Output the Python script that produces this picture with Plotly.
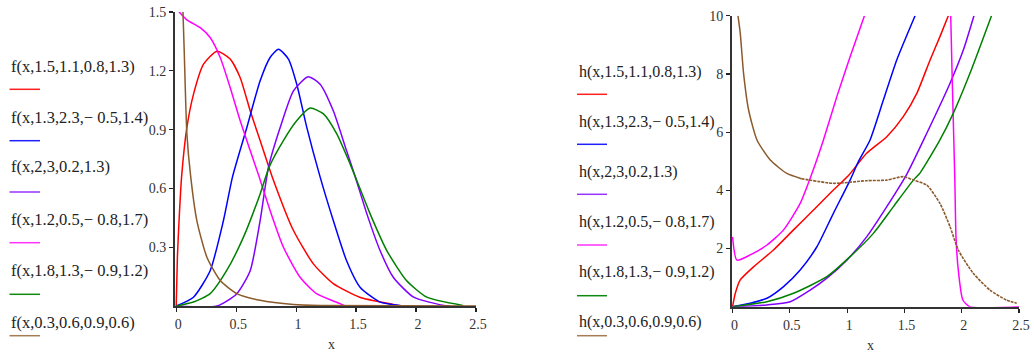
import plotly.graph_objects as go

# ---------------- data ----------------
# Left panel: densities f(x, ...)
f_red_x = [0.0, 0.01, 0.025, 0.045, 0.089, 0.144, 0.228, 0.34, 0.45, 0.533, 0.617, 0.70, 0.80, 0.978, 1.144, 1.31, 1.53, 1.81, 1.87]
f_red_y = [0.0, 0.25, 0.45, 0.66, 0.91, 1.08, 1.234, 1.30, 1.26, 1.166, 0.996, 0.844, 0.66, 0.385, 0.215, 0.114, 0.045, 0.008, 0.0]

f_blue_x = [0.0, 0.144, 0.283, 0.394, 0.47, 0.589, 0.70, 0.783, 0.853, 0.936, 1.006, 1.089, 1.197, 1.31, 1.42, 1.533, 1.70, 1.87]
f_blue_y = [0.0, 0.045, 0.18, 0.436, 0.66, 0.911, 1.149, 1.268, 1.31, 1.26, 1.13, 0.911, 0.665, 0.436, 0.232, 0.096, 0.02, 0.003]

f_purple_x = [0.0, 0.34, 0.506, 0.617, 0.70, 0.77, 0.867, 0.978, 1.10, 1.20, 1.31, 1.42, 1.49, 1.59, 1.70, 1.81, 1.98, 2.23, 2.28]
f_purple_y = [0.0, 0.0, 0.063, 0.18, 0.436, 0.71, 0.911, 1.098, 1.17, 1.132, 0.996, 0.793, 0.665, 0.47, 0.283, 0.147, 0.045, 0.003, 0.0]

f_magenta_x = [0.01, 0.089, 0.2, 0.283, 0.367, 0.45, 0.533, 0.617, 0.686, 0.783, 0.894, 1.033, 1.17, 1.367, 1.41]
f_magenta_y = [1.51, 1.46, 1.42, 1.37, 1.268, 1.115, 0.946, 0.793, 0.67, 0.487, 0.30, 0.147, 0.063, 0.012, 0.0]

f_green_x = [0.0, 0.144, 0.283, 0.42, 0.56, 0.70, 0.776, 0.894, 1.006, 1.117, 1.228, 1.339, 1.45, 1.506, 1.617, 1.756, 1.92, 2.09, 2.39]
f_green_y = [0.0, 0.02, 0.063, 0.18, 0.35, 0.572, 0.71, 0.844, 0.946, 1.01, 0.98, 0.878, 0.725, 0.64, 0.47, 0.283, 0.13, 0.045, 0.003]

f_brown_x = [0.056, 0.067, 0.089, 0.12, 0.172, 0.256, 0.367, 0.506, 0.70, 0.978, 1.2, 2.5]
f_brown_y = [1.51, 1.30, 0.88, 0.665, 0.436, 0.249, 0.13, 0.063, 0.029, 0.008, 0.003, 0.0]

# Right panel: hazard functions h(x, ...)
h_red_x = [0.0, 0.024, 0.067, 0.183, 0.357, 0.532, 0.706, 0.88, 1.01, 1.17, 1.346, 1.49, 1.608, 1.724, 1.81, 1.883]
h_red_y = [0.0, 0.46, 0.92, 1.37, 1.95, 2.64, 3.32, 4.01, 4.5, 5.27, 5.84, 6.53, 7.33, 8.48, 9.28, 10.0]

h_blue_x = [0.0, 0.154, 0.30, 0.445, 0.59, 0.736, 0.88, 1.026, 1.10, 1.20, 1.316, 1.433, 1.593]
h_blue_y = [0.0, 0.12, 0.29, 0.69, 1.26, 2.06, 3.21, 4.35, 5.0, 5.73, 7.10, 8.48, 10.0]

h_purple_x = [0.0, 0.30, 0.503, 0.677, 0.823, 0.997, 1.17, 1.346, 1.52, 1.695, 1.898, 2.014, 2.107]
h_purple_y = [0.0, 0.06, 0.17, 0.57, 0.98, 1.60, 2.40, 3.44, 4.55, 5.96, 7.68, 8.82, 10.0]

h_magenta_x = [0.0, 0.038, 0.154, 0.30, 0.445, 0.59, 0.69, 0.793, 0.91, 1.026, 1.151, None, 1.904, 1.918, 1.94, 1.95, 1.97, 2.01, 2.07, 2.5]
h_magenta_y = [2.4, 1.6, 1.78, 2.12, 2.64, 3.55, 4.55, 5.73, 7.22, 8.59, 10.0, None, 10.0, 7.68, 4.35, 2.4, 1.26, 0.23, 0.0, 0.0]

h_green_x = [0.0, 0.30, 0.532, 0.823, 1.026, 1.229, 1.404, 1.578, 1.637, 1.81, 1.927, 2.072, 2.26]
h_green_y = [0.0, 0.17, 0.46, 1.03, 1.72, 2.52, 3.44, 4.35, 4.6, 5.73, 6.65, 8.02, 10.0]

# brown hazard: smooth solid part, then the noisy (dotted-looking) part
h_brown_x = [0.047, 0.067, 0.096, 0.14, 0.213, 0.329, 0.474, 0.60]
h_brown_y = [10.0, 9.4, 8.02, 6.76, 5.73, 5.04, 4.58, 4.40]
h_brown_tail_x = [0.60, 0.88, 1.17, 1.346, 1.49, 1.578, 1.695, 1.81, 1.898, 1.97, 2.10, 2.247, 2.39, 2.48]
h_brown_tail_y = [4.40, 4.24, 4.33, 4.35, 4.47, 4.35, 4.18, 3.55, 2.75, 1.95, 1.15, 0.57, 0.23, 0.12]

f_labels = ["f(x,1.5,1.1,0.8,1.3)", "f(x,1.3,2.3,\u2212 0.5,1.4)", "f(x,2,3,0.2,1.3)",
            "f(x,1.2,0.5,\u2212 0.8,1.7)", "f(x,1.8,1.3,\u2212 0.9,1.2)", "f(x,0.3,0.6,0.9,0.6)"]
h_labels = ["h(x,1.5,1.1,0.8,1.3)", "h(x,1.3,2.3,\u2212 0.5,1.4)", "h(x,2,3,0.2,1.3)",
            "h(x,1.2,0.5,\u2212 0.8,1.7)", "h(x,1.8,1.3,\u2212 0.9,1.2)", "h(x,0.3,0.6,0.9,0.6)"]

left_ticks_x = [0, 0.5, 1, 1.5, 2, 2.5]
left_ticks_y = [0.3, 0.6, 0.9, 1.2, 1.5]
right_ticks_x = [0, 0.5, 1, 1.5, 2, 2.5]
right_ticks_y = [2, 4, 6, 8, 10]

# ---------------- styling ----------------
colors = ["#ff0000", "#0000ff", "#8000ff", "#ff00ff", "#008000", "#8b5a2b"]
legend_line_colors = ["#ff2020", "#2020ff", "#9933ff", "#ff33ff", "#118811", "#a67c52"]
W, H = 1034, 354
SERIF = "Liberation Serif, Times New Roman, serif"

f_series = [(f_red_x, f_red_y), (f_blue_x, f_blue_y), (f_purple_x, f_purple_y),
            (f_magenta_x, f_magenta_y), (f_green_x, f_green_y), (f_brown_x, f_brown_y)]
h_series = [(h_red_x, h_red_y), (h_blue_x, h_blue_y), (h_purple_x, h_purple_y),
            (h_magenta_x, h_magenta_y), (h_green_x, h_green_y), (h_brown_x, h_brown_y)]

fig = go.Figure()
for (xs, ys), c, name in zip(f_series, colors, f_labels):
    fig.add_trace(go.Scatter(x=xs, y=ys, mode="lines", name=name, xaxis="x", yaxis="y",
                             line=dict(color=c, width=1.5, shape="spline", smoothing=0.6),
                             showlegend=False, hoverinfo="skip"))
for (xs, ys), c, name in zip(h_series, colors, h_labels):
    fig.add_trace(go.Scatter(x=xs, y=ys, mode="lines", name=name, xaxis="x2", yaxis="y2",
                             line=dict(color=c, width=1.5, shape="spline", smoothing=0.6),
                             connectgaps=False, showlegend=False, hoverinfo="skip"))
fig.add_trace(go.Scatter(x=h_brown_tail_x, y=h_brown_tail_y, mode="lines", name=h_labels[5],
                         xaxis="x2", yaxis="y2",
                         line=dict(color=colors[5], width=1.6, shape="spline", smoothing=0.6,
                                   dash="3px,1px"),
                         showlegend=False, hoverinfo="skip"))


def px(x):
    return x / W


def py(y):
    return 1 - y / H


axis_common = dict(showgrid=False, zeroline=False, showline=True, linecolor="#333333",
                   linewidth=2, mirror=False, ticks="outside", ticklen=4, tickcolor="#222222",
                   tickwidth=1.2, ticklabelstandoff=0,
                   tickfont=dict(family=SERIF, size=14, color="#333333"))

fig.update_layout(
    width=W, height=H,
    margin=dict(l=0, r=0, t=0, b=0, autoexpand=False),
    paper_bgcolor="white", plot_bgcolor="white",
    xaxis=dict(domain=[px(175), px(476)], range=[-0.01, 2.5], anchor="y",
               tickvals=left_ticks_x, ticktext=[str(t) for t in left_ticks_x],
               ticklabelshift=2, **axis_common),
    yaxis=dict(domain=[py(306), py(12)], range=[0, 1.5], anchor="x",
               tickvals=left_ticks_y, ticktext=[str(t) for t in left_ticks_y], **axis_common),
    xaxis2=dict(domain=[px(732), px(1019)], range=[-0.005, 2.5], anchor="y2",
                tickvals=right_ticks_x, ticktext=[str(t) for t in right_ticks_x],
                ticklabelshift=2, **axis_common),
    yaxis2=dict(domain=[py(306.7), py(15.7)], range=[0, 10], anchor="x2",
                tickvals=right_ticks_y, ticktext=[str(t) for t in right_ticks_y], **axis_common),
)

# axis titles
fig.add_annotation(x=px(326), y=py(344), xref="paper", yref="paper", text="x", showarrow=False,
                   yanchor="middle", font=dict(family=SERIF, size=14, color="#333333"))
fig.add_annotation(x=px(876), y=py(345), xref="paper", yref="paper", text="x", showarrow=False,
                   yanchor="middle", font=dict(family=SERIF, size=14, color="#333333"))

# hand-made legends (Mathcad style: label, then a short line below)
left_label_y = [67, 117, 167, 219, 270, 322]
left_line_y = [89.3, 140.7, 192, 242.7, 294.3, 335.7]
right_label_y = [72, 122, 172, 222, 272, 322]
right_line_y = [94.3, 144.3, 194.3, 245, 295.7, 335.7]

for lab, ly, lny, lc in zip(f_labels, left_label_y, left_line_y, legend_line_colors):
    fig.add_annotation(x=px(10), y=py(ly), xref="paper", yref="paper", text=lab, showarrow=False,
                       xanchor="left", yanchor="middle", borderpad=0,
                       font=dict(family=SERIF, size=16.5, color="#222222"))
    fig.add_shape(type="line", xref="paper", yref="paper", x0=px(9.5), x1=px(40), y0=py(lny), y1=py(lny),
                  line=dict(color=lc, width=1.5))
for lab, ly, lny, lc in zip(h_labels, right_label_y, right_line_y, legend_line_colors):
    fig.add_annotation(x=px(578), y=py(ly), xref="paper", yref="paper", text=lab, showarrow=False,
                       xanchor="left", yanchor="middle", borderpad=0,
                       font=dict(family=SERIF, size=16, color="#222222"))
    fig.add_shape(type="line", xref="paper", yref="paper", x0=px(577), x1=px(607), y0=py(lny), y1=py(lny),
                  line=dict(color=lc, width=1.5))

fig.write_html("out.html", config={"displayModeBar": False, "staticPlot": True},
               post_script="document.body.style.margin='0';document.body.style.overflow='hidden';")
